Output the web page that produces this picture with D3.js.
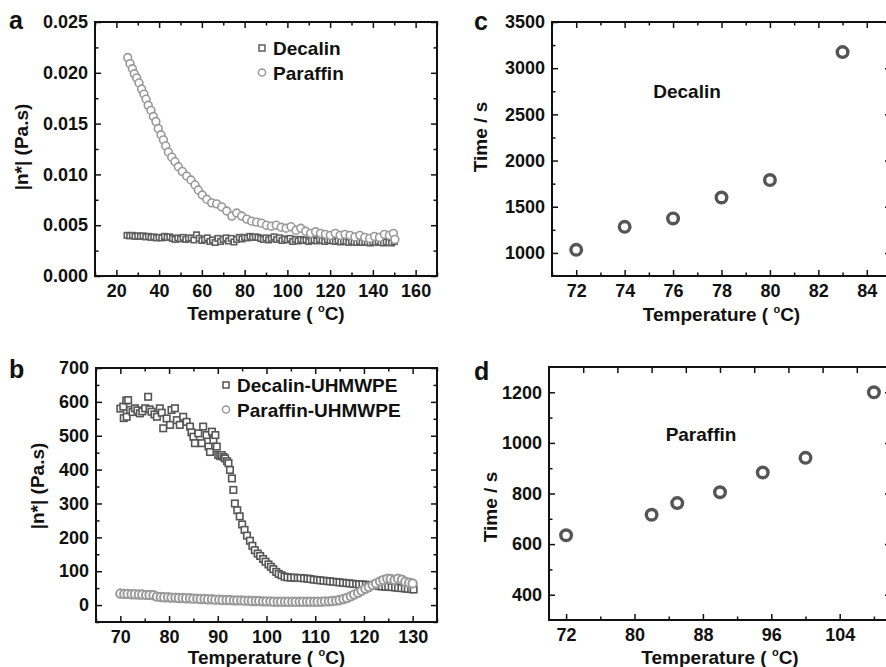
<!DOCTYPE html>
<html>
<head>
<meta charset="utf-8">
<script src="https://cdn.jsdelivr.net/npm/d3@7"></script>
<style>
  body { margin: 0; background: #fff; }
  svg { display: block; font-family: "Liberation Sans", Arial, sans-serif; font-weight: bold; }
</style>
</head>
<body>
<svg width="886" height="667"></svg>
<script>
// panel a: |n*| of the pure solvents, [temperature, Pa.s]
const decalinA = [
  [25, 0.0040], [26.25, 0.00395], [27.5, 0.0040], [28.75, 0.0039], [30, 0.00395], [31.25, 0.0039],
  [32.5, 0.00395], [33.75, 0.00385], [35, 0.0039], [36.25, 0.0038], [37.5, 0.00385], [38.75, 0.00375],
  [40, 0.0038], [41.25, 0.00375], [42.5, 0.0039], [43.75, 0.0038], [45, 0.00385], [46.25, 0.0037],
  [47.5, 0.0036], [48.75, 0.00375], [50, 0.00365], [51.25, 0.0038], [52.5, 0.0036], [53.75, 0.0037],
  [55, 0.00375], [56.25, 0.00355], [57.5, 0.00405], [58.75, 0.0037], [60, 0.0035], [61.25, 0.0036],
  [62.5, 0.00375], [63.75, 0.0034], [65, 0.00355], [66.25, 0.0033], [67.5, 0.0037], [68.75, 0.0034],
  [70, 0.0036], [71.25, 0.00375], [72.5, 0.00345], [73.75, 0.0037], [75, 0.00335], [76.25, 0.0036],
  [77.5, 0.0038], [78.75, 0.00365], [80, 0.0038], [81.25, 0.00375], [82.5, 0.0039], [83.75, 0.0038],
  [85, 0.00385], [86.25, 0.0038], [87.5, 0.0037], [88.75, 0.0036], [90, 0.00375], [91.25, 0.00355],
  [92.5, 0.0037], [93.75, 0.00385], [95, 0.0036], [96.25, 0.00375], [97.5, 0.0035], [98.75, 0.00365],
  [100, 0.00355], [101.25, 0.0037], [102.5, 0.0034], [103.75, 0.0036], [105, 0.00345], [106.25, 0.0036],
  [107.5, 0.0035], [108.75, 0.00355], [110, 0.0034], [111.25, 0.0035], [112.5, 0.00355], [113.75, 0.00345],
  [115, 0.0036], [116.25, 0.0035], [117.5, 0.0034], [118.75, 0.00355], [120, 0.0035], [121.25, 0.00345],
  [122.5, 0.0034], [123.75, 0.0035], [125, 0.00335], [126.25, 0.00345], [127.5, 0.0034], [128.75, 0.0033],
  [130, 0.00345], [131.25, 0.00335], [132.5, 0.0033], [133.75, 0.0034], [135, 0.0033], [136.25, 0.00335],
  [137.5, 0.0033], [138.75, 0.00325], [140, 0.00335], [141.25, 0.0033], [142.5, 0.0034], [143.75, 0.0033],
  [145, 0.00325], [146.25, 0.00335], [147.5, 0.0033], [148.75, 0.00325], [150, 0.0034]
];
const paraffinA = [
  [25.3, 0.0215], [26.4, 0.0209], [27.5, 0.0204], [28.4, 0.0199], [29.5, 0.0195], [30.6, 0.0190],
  [31.8, 0.0184], [32.9, 0.0179], [33.9, 0.0174], [34.9, 0.0168], [36.2, 0.0163], [37.3, 0.0157],
  [38.5, 0.0152], [39.6, 0.0145], [40.9, 0.0139], [42.0, 0.0134], [43.1, 0.0128], [44.3, 0.0122],
  [45.9, 0.0117], [47.4, 0.01125], [49.0, 0.01075], [50.8, 0.0103], [52.9, 0.00984], [54.9, 0.00945],
  [56.8, 0.00896], [58.3, 0.00846], [60.2, 0.00797], [62.3, 0.00755], [64.6, 0.0072], [66.9, 0.0071],
  [69.3, 0.0068], [71.6, 0.0064], [74.0, 0.0059], [76.3, 0.0062], [78.6, 0.0059], [81.0, 0.0056],
  [83.3, 0.0054], [85.6, 0.0053], [87.9, 0.0052], [90.2, 0.0050], [92.5, 0.0049], [94.8, 0.0050],
  [97.1, 0.0048], [99.4, 0.0047], [101.7, 0.00485], [104.0, 0.0045], [106.3, 0.0047], [108.6, 0.0044],
  [110.9, 0.0042], [113.2, 0.00435], [115.5, 0.0042], [117.8, 0.0041], [120.1, 0.0040], [122.4, 0.0042],
  [124.7, 0.0040], [127.0, 0.0041], [129.3, 0.0040], [131.6, 0.00385], [133.9, 0.0040], [136.2, 0.0038],
  [138.5, 0.0037], [140.8, 0.0039], [143.1, 0.0038], [145.4, 0.0041], [147.7, 0.0040], [149.6, 0.0042],
  [150.3, 0.0036]
];

// panel b: |n*| of the UHMWPE solutions, [temperature, Pa.s]
const decalinB = [
  [70.0, 580], [70.6, 586], [70.7, 552], [71.2, 604], [71.3, 556], [71.6, 605], [72.0, 576], [72.5, 570],
  [73.0, 581], [73.5, 575], [74.0, 566], [74.5, 572], [75.1, 581], [75.7, 615], [76.0, 578], [76.4, 571],
  [77.0, 563], [77.5, 556], [78.1, 581], [78.5, 568], [78.8, 522], [79.5, 551], [80.2, 532], [80.5, 576],
  [81.2, 581], [81.6, 546], [82.2, 532], [82.9, 556], [83.6, 541], [84.3, 527], [84.6, 510], [85.0, 497],
  [85.3, 478], [86.0, 507], [86.7, 478], [87.0, 527], [87.7, 502], [88.1, 468], [88.4, 452], [88.8, 512],
  [89.1, 487], [89.5, 502], [89.8, 468], [90.1, 443], [90.5, 440], [90.8, 443], [91.2, 437], [91.5, 433],
  [91.9, 425], [92.2, 419], [92.5, 399], [92.9, 374], [93.2, 340], [93.5, 300], [94.0, 280], [94.5, 262],
  [95.0, 238], [95.5, 222], [96.0, 205], [96.6, 190], [97.1, 175], [97.6, 162], [98.2, 152], [98.7, 145],
  [99.3, 136], [99.8, 128], [100.4, 120], [100.9, 113], [101.4, 106], [102.0, 98], [102.5, 92], [103.1, 88],
  [103.7, 84], [104.3, 82], [105.0, 81], [105.7, 81], [106.4, 80], [107.0, 80], [107.7, 79], [108.4, 78],
  [109.0, 77], [109.7, 75], [110.4, 74], [111.0, 73], [111.7, 72], [112.4, 71], [113.0, 70], [113.7, 69],
  [114.4, 68], [115.0, 67], [115.7, 66], [116.4, 65], [117.0, 64], [117.7, 63], [118.4, 62], [119.0, 61],
  [119.7, 61], [120.4, 60], [121.0, 59], [121.7, 58], [122.4, 57], [123.0, 56], [123.7, 55], [124.4, 54],
  [125.0, 54], [125.7, 53], [126.4, 52], [127.0, 51], [127.7, 50], [128.4, 49], [129.0, 48], [129.7, 47],
  [130.2, 46]
];
const paraffinB = [
  [70.0, 34], [70.8, 33], [71.5, 33], [72.3, 32], [73.0, 32], [73.8, 31], [74.5, 31], [75.3, 30],
  [76.0, 30], [76.8, 29], [77.5, 25], [78.3, 24], [79.0, 23], [79.8, 23], [80.5, 22], [81.3, 22],
  [82.0, 21], [82.8, 21], [83.5, 20], [84.3, 20], [85.0, 19], [85.8, 19], [86.5, 18], [87.3, 18],
  [88.0, 17], [88.8, 17], [89.5, 16], [90.3, 16], [91.0, 15], [91.8, 15], [92.5, 15], [93.3, 14],
  [94.0, 14], [94.8, 14], [95.5, 13], [96.3, 13], [97.0, 12], [97.8, 12], [98.5, 12], [99.3, 11],
  [100.0, 11], [100.8, 11], [101.5, 10], [102.3, 10], [103.0, 10], [103.8, 10], [104.5, 10], [105.3, 10],
  [106.0, 10], [106.8, 10], [107.5, 10], [108.3, 10], [109.0, 10], [109.8, 10], [110.5, 10], [111.3, 10],
  [112.0, 11], [112.8, 11], [113.5, 12], [114.3, 13], [115.0, 15], [115.8, 18], [116.5, 21], [117.3, 26],
  [118.0, 31], [118.8, 36], [119.5, 42], [120.3, 48], [121.0, 53], [121.8, 59], [122.5, 64], [123.3, 70],
  [124.0, 74], [124.8, 78], [125.5, 77], [126.3, 74], [127.0, 78], [127.8, 75], [128.5, 69], [129.3, 66],
  [130.0, 64]
];

// panel c / d: gelation time vs temperature
const tempC = [72, 74, 76, 78, 80, 83];
const timeC = [1033, 1282, 1373, 1600, 1789, 3174];
const tempD = [72, 82, 85, 90, 95, 100, 108];
const timeD = [635, 716, 762, 805, 883, 941, 1200];

const svg = d3.select('svg');
const ink = '#111';

const range = (a, b, s) => d3.range(a, b + s / 2, s);

function panel(p) {
  const x = d3.scaleLinear().domain(p.xDomain).range([p.left, p.right]);
  const y = d3.scaleLinear().domain(p.yDomain).range([p.bottom, p.top]);
  const g = svg.append('g');

  const addAxis = (axis, scale, vals, size, pad, fmt, tr) => {
    const a = g.append('g')
      .attr('transform', tr)
      .call(axis(scale).tickValues(vals).tickSize(-size).tickSizeOuter(0).tickPadding(pad).tickFormat(fmt));
    a.select('.domain').remove();
    a.selectAll('line').attr('stroke', ink).attr('stroke-width', 1.5);
    a.attr('font-family', null).attr('font-size', 18);
    a.selectAll('text').attr('fill', ink);
    return a;
  };

  // bottom and left with labels
  addAxis(d3.axisBottom, x, p.xMajor, 6, 8, p.xFormat || d3.format('d'), `translate(0,${p.bottom})`);
  addAxis(d3.axisBottom, x, p.xMinor, 3.5, 8, () => '', `translate(0,${p.bottom})`);
  addAxis(d3.axisLeft, y, p.yMajor, 6, 7, p.yFormat || d3.format('d'), `translate(${p.left},0)`);
  addAxis(d3.axisLeft, y, p.yMinor, 3.5, 7, () => '', `translate(${p.left},0)`);
  // mirrored top and right
  addAxis(d3.axisTop, x, p.topMajor || p.xMajor, 6, 0, () => '', `translate(0,${p.top})`);
  addAxis(d3.axisTop, x, p.topMinor || p.xMinor, p.topMajor ? 4 : 3.5, 0, () => '', `translate(0,${p.top})`);
  addAxis(d3.axisRight, y, p.yMajor, 6, 0, () => '', `translate(${p.right},0)`);
  addAxis(d3.axisRight, y, p.yMinor, 3.5, 0, () => '', `translate(${p.right},0)`);

  g.append('rect')
    .attr('x', p.left).attr('y', p.top)
    .attr('width', p.right - p.left).attr('height', p.bottom - p.top)
    .attr('fill', 'none').attr('stroke', ink).attr('stroke-width', 2);

  // x title with superscript degree
  const xt = g.append('text')
    .attr('x', (p.left + p.right) / 2).attr('y', p.xTitleY)
    .attr('text-anchor', 'middle').attr('font-size', 19).attr('fill', ink);
  xt.append('tspan').text('Temperature ( ');
  xt.append('tspan').attr('dy', -8).attr('font-size', 11).text('o');
  xt.append('tspan').attr('dy', 8).text('C)');

  g.append('text')
    .attr('transform', `translate(${p.yTitleX},${p.yTitleY}) rotate(-90)`)
    .attr('text-anchor', 'middle').attr('font-size', 19).attr('fill', ink)
    .text(p.yTitle);

  g.append('text')
    .attr('x', p.labelX).attr('y', p.labelY)
    .attr('font-size', 25).attr('fill', ink)
    .text(p.label);

  return {x, y, g};
}

const square = (g, data, x, y, size, color) => g.append('g').selectAll('rect')
  .data(data).join('rect')
  .attr('x', d => x(d[0]) - size / 2).attr('y', d => y(d[1]) - size / 2)
  .attr('width', size).attr('height', size)
  .attr('fill', '#fff').attr('stroke', color).attr('stroke-width', 1.6);

const circle = (g, data, x, y, r, color, w) => g.append('g').selectAll('circle')
  .data(data).join('circle')
  .attr('cx', d => x(d[0])).attr('cy', d => y(d[1])).attr('r', r)
  .attr('fill', '#fff').attr('stroke', color).attr('stroke-width', w);

function legend(g, x0, y0, items) {
  items.forEach((it, i) => {
    const cy = y0 + i * 24.5;
    if (it.shape === 'square') {
      g.append('rect').attr('x', x0 - 3).attr('y', cy - 3).attr('width', 6).attr('height', 6)
        .attr('fill', '#fff').attr('stroke', it.color).attr('stroke-width', 1.5);
    } else {
      g.append('circle').attr('cx', x0).attr('cy', cy).attr('r', 3.6)
        .attr('fill', '#fff').attr('stroke', it.color).attr('stroke-width', 1.5);
    }
    g.append('text').attr('x', x0 + 11).attr('y', cy + 7)
      .attr('font-size', 19).attr('fill', ink).text(it.name);
  });
}

// ---- a ----
const A = panel({
  left: 95, right: 437, top: 22, bottom: 276,
  xDomain: [10, 170], yDomain: [0, 0.025],
  xMajor: range(20, 160, 20), xMinor: range(10, 170, 20),
  yMajor: range(0, 0.025, 0.005), yMinor: range(0.0025, 0.0225, 0.005),
  yFormat: d3.format('.3f'),
  xTitleY: 320, yTitle: '|n*| (Pa.s)', yTitleX: 28, yTitleY: 147,
  label: 'a', labelX: 9, labelY: 29
});
square(A.g, decalinA, A.x, A.y, 5.5, '#5e5e5e');
circle(A.g, paraffinA, A.x, A.y, 3.9, '#999', 1.6);
legend(A.g, 262, 48, [
  {name: 'Decalin', shape: 'square', color: '#5e5e5e'},
  {name: 'Paraffin', shape: 'circle', color: '#999'}
]);

// ---- b ----
const B = panel({
  left: 96, right: 437, top: 368, bottom: 622,
  xDomain: [65, 135], yDomain: [-50, 700],
  xMajor: range(70, 130, 10), xMinor: range(65, 135, 10),
  yMajor: range(0, 700, 100), yMinor: range(-50, 650, 100),
  xTitleY: 664, yTitle: '|n*| (Pa.s)', yTitleX: 44, yTitleY: 486,
  label: 'b', labelX: 9, labelY: 378
});
square(B.g, decalinB, B.x, B.y, 6.5, '#555');
circle(B.g, paraffinB, B.x, B.y, 4.2, '#999', 2);
legend(B.g, 226, 385, [
  {name: 'Decalin-UHMWPE', shape: 'square', color: '#555'},
  {name: 'Paraffin-UHMWPE', shape: 'circle', color: '#999'}
]);

// ---- c ----
const C = panel({
  left: 552, right: 891, top: 22, bottom: 276,
  xDomain: [71, 85], yDomain: [750, 3500],
  xMajor: range(72, 84, 2), xMinor: range(71, 85, 2),
  yMajor: range(1000, 3500, 500), yMinor: range(1250, 3250, 500),
  xTitleY: 321, yTitle: 'Time / s', yTitleX: 487, yTitleY: 137,
  label: 'c', labelX: 474, labelY: 30
});
circle(C.g, d3.zip(tempC, timeC), C.x, C.y, 5.3, '#555', 3.4);
C.g.append('text').attr('x', 687).attr('y', 98).attr('text-anchor', 'middle')
  .attr('font-size', 19).attr('fill', ink).text('Decalin');

// ---- d ----
const D = panel({
  left: 549, right: 891, top: 367, bottom: 620,
  xDomain: [70, 110], yDomain: [300, 1300],
  xMajor: range(72, 104, 8), xMinor: range(76, 108, 8),
  topMajor: range(74, 106, 4), topMinor: [],
  yMajor: range(400, 1200, 200), yMinor: range(500, 1100, 200),
  xTitleY: 664, yTitle: 'Time / s', yTitleX: 497, yTitleY: 507,
  label: 'd', labelX: 474, labelY: 380
});
circle(D.g, d3.zip(tempD, timeD), D.x, D.y, 5.3, '#555', 3.4);
D.g.append('text').attr('x', 701).attr('y', 441).attr('text-anchor', 'middle')
  .attr('font-size', 19).attr('fill', ink).text('Paraffin');
</script>
</body>
</html>
